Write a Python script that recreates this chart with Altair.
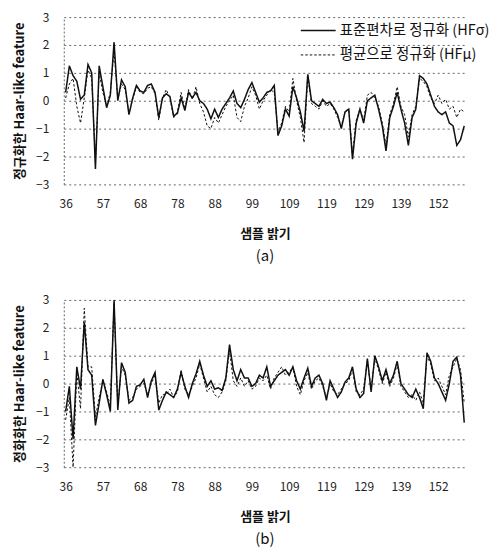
import altair as alt
import pandas as pd

idx = list(range(108))
tick_idx = [0, 10, 20, 30, 40, 50, 60, 70, 80, 90, 100]
tick_labels = ["36", "57", "68", "78", "88", "99", "109", "119", "129", "139", "152"]
series_names = ["표준편차로 정규화 (HFσ)", "평균으로 정규화 (HFμ)"]

a_sigma = [0.3, 1.25, 0.9, 0.7, 0.05, 0.2, 1.3, 1.0, -2.45, 1.25,
           0.5, -0.25, 0.2, 2.1, 0.0, 0.75, 0.5, -0.5, 0.1, 0.55,
           0.35, 0.3, 0.55, 0.6, 0.3, -0.6, 0.1, 0.25, 0.15, -0.55,
           -0.45, 0.1, -0.35, 0.3, 0.1, 0.3, 0.0, -0.1, -0.3, -0.65,
           -0.3, -0.6, -0.3, -0.1, 0.1, 0.35, -0.1, -0.25, 0.05, 0.4,
           0.65, 0.3, -0.05, 0.1, 0.3, 0.35, 0.55, -1.25, -0.9, -0.3,
           -0.55, 0.5, 0.1, -0.4, -1.1, 0.95, 0.0, -0.1, -0.2, 0.05,
           -0.1, -0.05, -0.25, -0.5, -1.0, -0.4, -0.3, -2.1, -0.8, -0.3,
           -0.8, 0.0, 0.1, 0.2, -0.3, -0.9, -1.8, -0.6, -0.2, 0.3,
           -0.3, -0.8, -1.6, -0.6, -0.3, 0.9, 0.8, 0.6, 0.2, -0.2,
           -0.4, -0.5, -0.4, -0.8, -0.9, -1.6, -1.4, -0.9]
a_mu = [0.1, 0.6, 0.8, -0.2, -0.8, 0.1, 1.1, 0.8, -2.2, 1.0,
        0.3, -0.2, 0.3, 1.8, 0.05, 0.6, 0.4, -0.45, 0.05, 0.5,
        0.3, 0.25, 0.45, 0.5, 0.25, -0.7, 0.1, 0.4, 0.1, -0.6,
        -0.4, 0.3, -0.3, 0.4, 0.05, 0.5, -0.1, -0.4, -0.9, -1.0,
        -0.6, -0.8, -0.5, -0.2, 0.0, 0.2, -0.6, -0.75, -0.2, 0.1,
        0.5, 0.2, -0.3, 0.0, 0.2, 0.4, 0.3, -1.1, -0.8, -0.2,
        -0.4, 0.8, 0.0, -0.6, -1.5, 0.9, -0.1, -0.2, -0.3, 0.0,
        -0.2, -0.1, -0.3, -0.6, -0.9, -0.4, -0.3, -1.9, -0.7, -0.3,
        -0.7, 0.2, 0.3, 0.1, -0.2, -0.8, -1.6, -0.5, -0.1, 0.5,
        -0.2, -0.5, -1.3, -0.5, -0.2, 0.8, 0.7, 0.5, 0.1, -0.1,
        0.2, -0.1, 0.05, -0.3, -0.2, -0.6, -0.3, -0.4]
b_sigma = [-1.0, -0.1, -2.0, 0.6, -0.2, 2.2, 0.5, 0.3, -1.5, -0.7,
           0.15, -0.4, -1.0, 3.0, -0.95, 0.75, 0.4, -0.7, -0.6, -0.1,
           -0.05, 0.15, -0.5, 0.1, 0.4, -0.95, -0.6, -0.3, -0.4, -0.5,
           -0.2, 0.4, -0.1, -0.5, 0.0, 0.35, 0.8, 0.3, -0.1, 0.1,
           -0.2, -0.15, -0.25, 0.2, 1.4, 0.5, 0.1, 0.5, 0.2, 0.2,
           -0.1, 0.0, 0.3, 0.2, 0.6, -0.1, 0.1, 0.3, 0.4, 0.5,
           0.3, 0.6, 0.1, -0.2, 0.2, 0.55, -0.1, 0.2, 0.3, 0.0,
           -0.6, 0.1, -0.2, -0.5, -0.3, 0.05, 0.2, 0.6, -0.2, -0.5,
           -0.35, 0.9, -0.3, 1.0, 0.6, 0.1, 0.5, 0.0, 0.3, 0.8,
           0.0, -0.2, -0.4, -0.5, -0.2, -0.5, -0.9, 1.1, 0.8, 0.2,
           0.0, -0.3, -0.6, 0.0, 0.8, 0.95, 0.3, -1.4]
b_mu = [-1.3, -0.5, -3.0, 0.4, -0.9, 2.7, 0.6, 0.6, -1.2, -0.5,
        0.1, -0.3, -0.8, 2.9, -0.8, 0.6, 0.3, -0.6, -0.5, -0.2,
        -0.1, 0.0, -0.4, 0.0, 0.3, -0.7, -0.4, -0.4, -0.2, -0.5,
        -0.3, 0.5, -0.2, -0.4, -0.1, 0.2, 0.7, 0.2, -0.3, -0.1,
        -0.4, -0.5, -0.3, 0.1, 1.2, 0.1, -0.1, 0.2, -0.1, 0.1,
        -0.2, -0.1, 0.2, 0.1, 0.3, -0.2, 0.2, 0.4, 0.6, 0.3,
        0.4, 0.6, -0.1, -0.4, 0.1, 0.4, -0.2, 0.1, 0.2, -0.1,
        -0.5, 0.0, -0.3, -0.4, -0.2, 0.0, 0.1, 0.5, -0.3, -0.4,
        -0.2, 0.8, -0.2, 0.9, 0.5, 0.0, 0.4, -0.1, 0.2, 0.7,
        -0.1, -0.3, -0.5, -0.4, -0.6, -0.3, -0.7, 1.0, 0.7, 0.1,
        0.2, -0.1, -0.4, 0.3, 0.6, 0.9, 0.5, -0.7]

FONT = "Noto Sans CJK KR"
label_expr = "[" + ",".join("'%s'" % t for t in tick_labels) + "][round(datum.value/10)]"


def panel(sig, mu, ytitle, caption, lx, ly, rowpad):
    df = pd.DataFrame({
        "idx": idx * 2,
        "value": sig + mu,
        "series": [series_names[0]] * len(sig) + [series_names[1]] * len(mu),
    })
    return alt.Chart(df).mark_line(clip=True, color="#111").encode(
        x=alt.X("idx:Q",
                scale=alt.Scale(domain=[-0.5, 107.5], nice=False, zero=False),
                axis=alt.Axis(values=tick_idx, labelExpr=label_expr, title="샘플 밝기",
                              grid=False, domain=False, ticks=False,
                              labelPadding=14, titlePadding=18,
                              labelFontSize=12, titleFontSize=13, titleFontWeight="bold",
                              labelFont=FONT, titleFont=FONT, labelColor="#222", titleColor="#111")),
        y=alt.Y("value:Q",
                scale=alt.Scale(domain=[-3, 3], nice=False),
                axis=alt.Axis(values=[-3, -2, -1, 0, 1, 2, 3], title=ytitle, format="d",
                              grid=True, gridDash=[2, 3], gridColor="#666", gridWidth=1,
                              domain=True, domainDash=[2, 2], domainColor="#666",
                              ticks=False, labelPadding=15, titlePadding=9,
                              labelFontSize=12, titleFontSize=13, titleFontWeight="bold",
                              labelFont=FONT, titleFont=FONT, labelColor="#222", titleColor="#111")),
        strokeDash=alt.StrokeDash("series:N",
                                  scale=alt.Scale(domain=series_names, range=[[1, 0], [2.5, 2]]),
                                  legend=alt.Legend(orient="none", legendX=lx, legendY=ly, title=None,
                                                    symbolType="stroke", symbolSize=1225,
                                                    symbolStrokeWidth=1.3, symbolStrokeColor="#111",
                                                    labelFontSize=14.5, labelFont=FONT, labelColor="#111",
                                                    labelOffset=3, rowPadding=rowpad)),
        strokeWidth=alt.StrokeWidth("series:N",
                                    scale=alt.Scale(domain=series_names, range=[1.5, 1.0]),
                                    legend=None),
    ).properties(
        width=404, height=168,
        title=alt.TitleParams(caption, orient="bottom", anchor="middle", fontSize=15,
                              fontWeight="normal", font=FONT, color="#111", offset=9),
    )


pa = panel(a_sigma, a_mu, "정규화한 Haar-like feature", "(a)", 237, -5, -19)
pb = panel(b_sigma, b_mu, "정화화한 Haar-like feature", "(b)", 226, -5, -17)

chart = alt.vconcat(pa, pb, spacing=30).properties(
    padding={"left": 5, "top": 2, "right": 2, "bottom": 1}
).configure_view(stroke=None)

chart.save("out.html", embed_options={"renderer": "svg", "actions": False})
